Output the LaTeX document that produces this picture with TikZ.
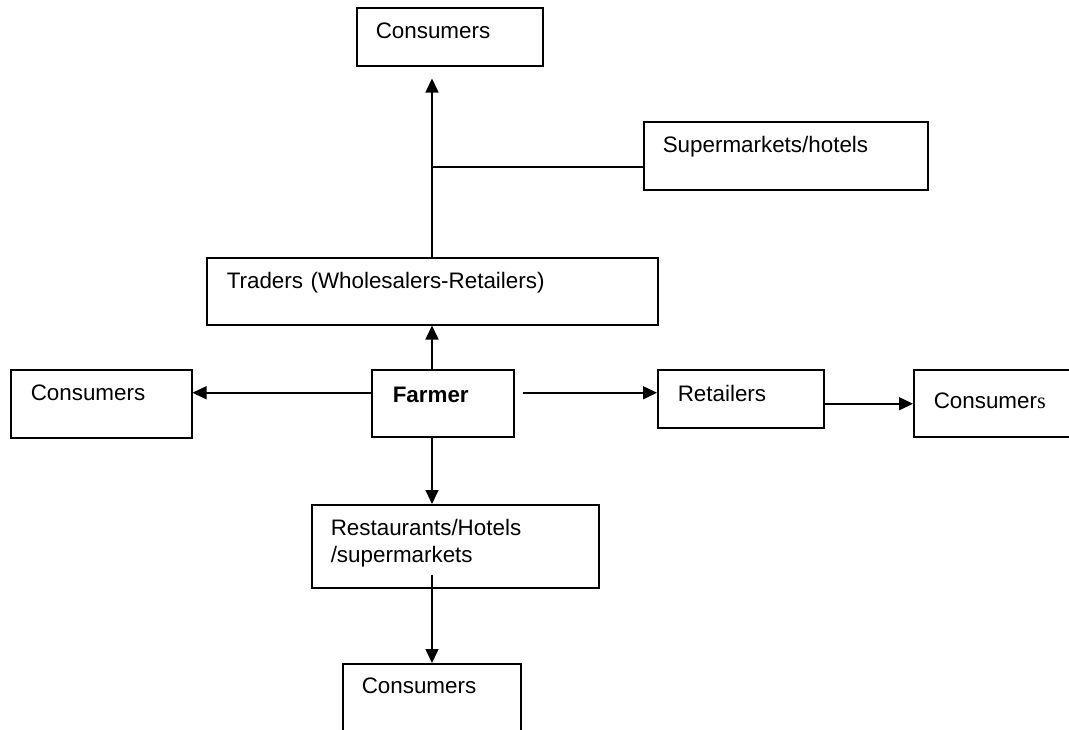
\documentclass[tikz,border=0pt]{standalone}
\usepackage{fontspec}
\setmainfont{Liberation Sans}
\newfontfamily\serifs{Liberation Serif}
\usetikzlibrary{arrows.meta}
\begin{document}
\begin{tikzpicture}[x=1pt,y=-1pt,
  box/.style={draw, line width=1.5pt, anchor=north west, align=left, inner ysep=0pt,
    font=\fontsize{22.4}{27}\selectfont},
  arr/.style={line width=1.5pt, -{Triangle[length=14pt,width=13pt]}},
  ln/.style={line width=1.5pt}]
\useasboundingbox (0,0) rectangle (1069,729);
\clip (0,0) rectangle (1069,729);
\fill[white] (0,0) rectangle (1069,729);

\node[box, inner xsep=19pt, text width=148pt, text height=31pt, text depth=27pt] (topC) at (356,7) {Consumers};
\node[box, inner xsep=19pt, text width=246pt, text height=31pt, text depth=37pt] (superm) at (643,121) {Supermarkets/hotels};
\node[box, inner xsep=20pt, text width=411pt, text height=31pt, text depth=36pt] (traders) at (206,257) {Traders (Wholesalers-Retailers)};
\node[box, inner xsep=21pt, text width=100pt, text height=33pt, text depth=34pt, font=\fontsize{22.4}{27}\selectfont\bfseries] (farmer) at (371,369) {Farmer};
\node[box, inner xsep=20pt, text width=141pt, text height=31pt, text depth=37pt] (leftC) at (10,369) {Consumers};
\node[box, inner xsep=20pt, text width=126pt, text height=32pt, text depth=26pt] (retailers) at (657,369) {Retailers};
\node[box, inner xsep=20pt, text width=150pt, text height=39pt, text depth=28pt] (rightC) at (913,369) {Consumer{\serifs s}};
\node[box, inner xsep=19pt, text width=249pt, text height=31pt, text depth=52pt] (rest) at (311,504) {Restaurants/Hotels\\/supermarkets};
\node[box, inner xsep=19pt, text width=140pt, text height=30pt, text depth=60pt] (botC) at (342,663) {Consumers};

\coordinate (spine) at (432,0);
\coordinate (tipTop) at ([yshift=-12pt]topC.south);
\coordinate (br) at ([yshift=-11pt]superm.west);
\coordinate (fl) at ([yshift=10.5pt]farmer.west);
\coordinate (fr) at ([xshift=8pt,yshift=10.5pt]farmer.east);
\coordinate (rr) at ([yshift=-5pt]retailers.east);
\coordinate (rs) at ([yshift=14pt]rest.south);

\draw[arr] (farmer.north -| spine) -- (traders.south -| spine);
\draw[arr] (traders.north -| spine) -- (tipTop -| spine);
\draw[ln] (br) -- (br -| spine);
\draw[arr] (fl) -- (fl -| leftC.east);
\draw[arr] (fr) -- (fr -| retailers.west);
\draw[arr] (rr) -- (rr -| rightC.west);
\draw[arr] (farmer.south -| spine) -- (rest.north -| spine);
\draw[arr] (rs -| spine) -- (botC.north -| spine);
\end{tikzpicture}
\end{document}
